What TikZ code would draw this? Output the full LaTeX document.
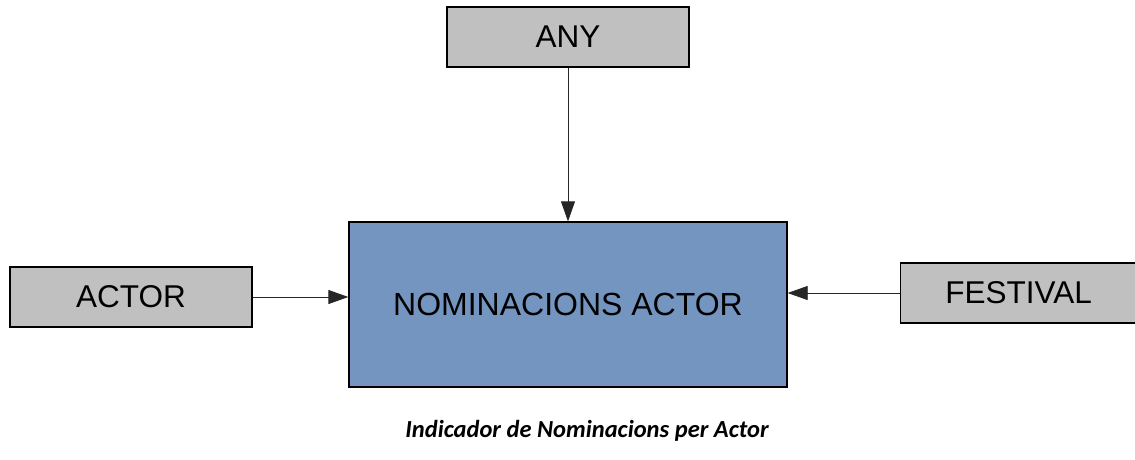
\documentclass[tikz,border=0pt]{standalone}
\usepackage{fontspec}
\setmainfont{Liberation Sans}
\newfontfamily\capfont{Carlito}
\usetikzlibrary{arrows.meta}
\definecolor{boxgray}{RGB}{192,192,192}
\definecolor{mainblue}{RGB}{115,149,192}
\tikzset{
  ent/.style={draw=black, line width=1.3pt, fill=boxgray, inner sep=0pt, font=\fontsize{31.5}{36}\selectfont},
  mainbox/.style={draw=black, line width=1.3pt, fill=mainblue, inner sep=0pt, font=\fontsize{32}{36}\selectfont},
  conn/.style={draw=black!85, line width=0.8pt, -{Triangle[length=20pt,width=14pt]}}
}
\begin{document}
\begin{tikzpicture}[x=1pt,y=-1pt]
\useasboundingbox (0,0) rectangle (1135,460);
\node[ent, minimum width=242pt, minimum height=60pt] (any) at (568,37) {ANY};
\node[mainbox, minimum width=438pt, minimum height=165pt] (main) at (568,304.5) {NOMINACIONS ACTOR};
\node[ent, minimum width=242pt, minimum height=60pt] (actor) at (131,297) {ACTOR};
\node[ent, minimum width=236pt, minimum height=60pt, anchor=west] (fest) at (900,293) {FESTIVAL};
\draw[conn] (any.south) -- (main.north);
\draw[conn] (actor.east) -- (main.west |- actor.east);
\draw[conn] (fest.west) -- (main.east |- fest.west);
\node[font=\capfont\bfseries\itshape\fontsize{24.5}{28}\selectfont] (cap) at (587,431) {Indicador de Nominacions per Actor};
\end{tikzpicture}
\end{document}
